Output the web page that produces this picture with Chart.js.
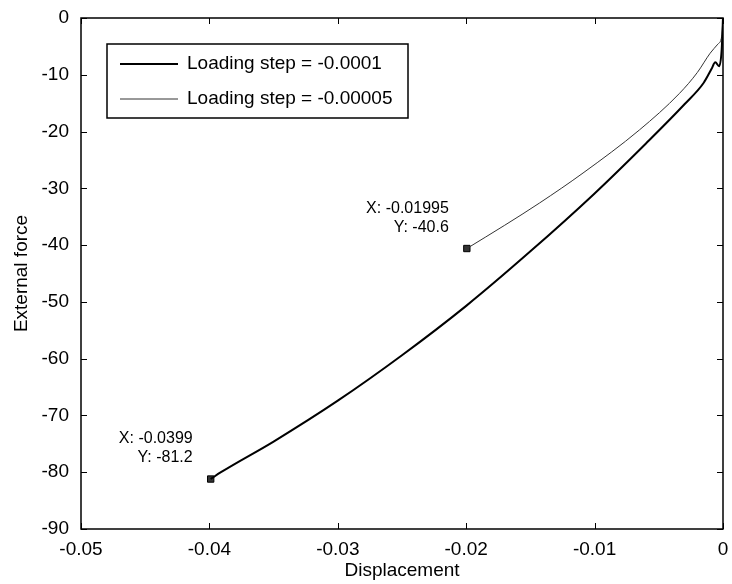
<!DOCTYPE html>
<html>
<head>
<meta charset="utf-8">
<script src="https://cdn.jsdelivr.net/npm/chart.js@4.4.0/dist/chart.umd.min.js"></script>
<style>
  html, body { margin: 0; padding: 0; background: #fff; }
  #wrap { width: 732px; height: 584px; }
</style>
</head>
<body>
<div id="wrap"><canvas id="forceChart" width="732" height="584"></canvas></div>
<script>
// step = -0.0001 (thick line)
const coarseX = [-0.0399, -0.0391, -0.035, -0.030, -0.025, -0.020, -0.015, -0.010, -0.006, -0.003, -0.0015, -0.0009, -0.0006, -0.0003, -0.0001, 0];
const coarseY = [-81.2, -80.0, -74.6, -67.4, -59.4, -50.7, -41.1, -30.9, -22.1, -15.2, -11.4, -9.0, -7.8, -8.5, -5.5, 0];
// step = -0.00005 (thin line)
const fineX = [-0.01995, -0.017, -0.0143, -0.0109, -0.0065, -0.0034, -0.0020, -0.0010, -0.0004, -0.0001, 0];
const fineY = [-40.6, -36.5, -32.6, -27.3, -19.7, -13.3, -9.6, -6.2, -4.6, -3.2, 0];

const seriesLabels = ['Loading step = -0.0001', 'Loading step = -0.00005'];

// data tips
const tipX = [-0.0399, -0.01995];
const tipY = [-81.2, -40.6];
const tipText = [['X: -0.0399', 'Y: -81.2'], ['X: -0.01995', 'Y: -40.6']];

const font = '"Liberation Sans", Arial, sans-serif';

const toPoints = (xs, ys) => xs.map((x, i) => ({ x: x, y: ys[i] }));

// box + inward ticks like matlab
const boxPlugin = {
    id: 'box',
    afterDraw(chart) {
        const ctx = chart.ctx;
        const a = chart.chartArea;
        const xs = chart.scales.x, ys = chart.scales.y;
        ctx.save();
        ctx.strokeStyle = '#000';
        ctx.lineWidth = 1.5;
        ctx.strokeRect(a.left, a.top, a.right - a.left, a.bottom - a.top);
        ctx.lineWidth = 1;
        ctx.beginPath();
        xs.ticks.forEach(t => {
            const p = Math.round(xs.getPixelForValue(t.value)) + 0.5;
            ctx.moveTo(p, a.bottom); ctx.lineTo(p, a.bottom - 6);
            ctx.moveTo(p, a.top); ctx.lineTo(p, a.top + 6);
        });
        ys.ticks.forEach(t => {
            const p = Math.round(ys.getPixelForValue(t.value)) + 0.5;
            ctx.moveTo(a.left, p); ctx.lineTo(a.left + 6, p);
            ctx.moveTo(a.right, p); ctx.lineTo(a.right - 6, p);
        });
        ctx.stroke();
        ctx.restore();
    }
};

// data tip labels
const tipPlugin = {
    id: 'tips',
    afterDatasetsDraw(chart) {
        const ctx = chart.ctx;
        const xs = chart.scales.x, ys = chart.scales.y;
        ctx.save();
        ctx.fillStyle = '#000';
        ctx.font = '16px ' + font;
        ctx.textAlign = 'right';
        ctx.textBaseline = 'middle';
        tipX.forEach((x, i) => {
            const px = xs.getPixelForValue(x);
            const py = ys.getPixelForValue(tipY[i]);
            ctx.fillText(tipText[i][0], px - 18, py - 40);
            ctx.fillText(tipText[i][1], px - 18, py - 21);
        });
        ctx.restore();
    }
};

// legend box inside the axes
const legendPlugin = {
    id: 'boxLegend',
    afterDraw(chart) {
        const ctx = chart.ctx;
        const a = chart.chartArea;
        const left = a.left + 26, top = a.top + 26, w = 301, h = 74;
        ctx.save();
        ctx.fillStyle = '#fff';
        ctx.fillRect(left, top, w, h);
        ctx.strokeStyle = '#000';
        ctx.lineWidth = 1.5;
        ctx.strokeRect(left, top, w, h);
        ctx.font = '19px ' + font;
        ctx.textBaseline = 'middle';
        ctx.textAlign = 'left';
        seriesLabels.forEach((lbl, i) => {
            const ds = chart.data.datasets[i];
            const y = top + 20 + i * 35;
            ctx.strokeStyle = ds.borderColor;
            ctx.lineWidth = ds.borderWidth;
            ctx.beginPath();
            ctx.moveTo(left + 13, y);
            ctx.lineTo(left + 71, y);
            ctx.stroke();
            ctx.fillStyle = '#000';
            ctx.fillText(lbl, left + 80, y);
        });
        ctx.restore();
    }
};

new Chart(document.getElementById('forceChart').getContext('2d'), {
    type: 'scatter',
    data: {
        datasets: [
            {
                label: seriesLabels[0],
                data: toPoints(coarseX, coarseY),
                showLine: true,
                borderColor: '#000',
                borderWidth: 2,
                pointRadius: 0,
                cubicInterpolationMode: 'monotone'
            },
            {
                label: seriesLabels[1],
                data: toPoints(fineX, fineY),
                showLine: true,
                borderColor: '#333',
                borderWidth: 1,
                pointRadius: 0,
                cubicInterpolationMode: 'monotone'
            },
            {
                label: 'tips',
                data: toPoints(tipX, tipY),
                showLine: false,
                pointStyle: 'rect',
                pointRadius: 4.5,
                backgroundColor: '#333',
                borderColor: '#000',
                borderWidth: 1
            }
        ]
    },
    plugins: [boxPlugin, tipPlugin, legendPlugin],
    options: {
        responsive: false,
        animation: false,
        layout: { padding: { top: 18, right: 9, left: 0, bottom: 0 } },
        plugins: {
            legend: { display: false },
            tooltip: { enabled: false }
        },
        scales: {
            x: {
                type: 'linear',
                min: -0.05,
                max: 0,
                ticks: {
                    stepSize: 0.01,
                    color: '#000',
                    font: { family: font, size: 19 },
                    padding: 1,
                    maxRotation: 0
                },
                grid: { display: false },
                border: { display: false },
                title: {
                    display: true,
                    text: 'Displacement',
                    color: '#000',
                    font: { family: font, size: 19 },
                    padding: { top: 0, bottom: 2 }
                },
                afterFit(scale) { scale.height = 55; }
            },
            y: {
                min: -90,
                max: 0,
                ticks: {
                    stepSize: 10,
                    color: '#000',
                    font: { family: font, size: 19 },
                    padding: 4
                },
                grid: { display: false },
                border: { display: false },
                title: {
                    display: true,
                    text: 'External force',
                    color: '#000',
                    font: { family: font, size: 19 },
                    padding: { top: 10, bottom: 0 }
                },
                afterFit(scale) { scale.width = 81; }
            }
        }
    }
});
</script>
</body>
</html>
